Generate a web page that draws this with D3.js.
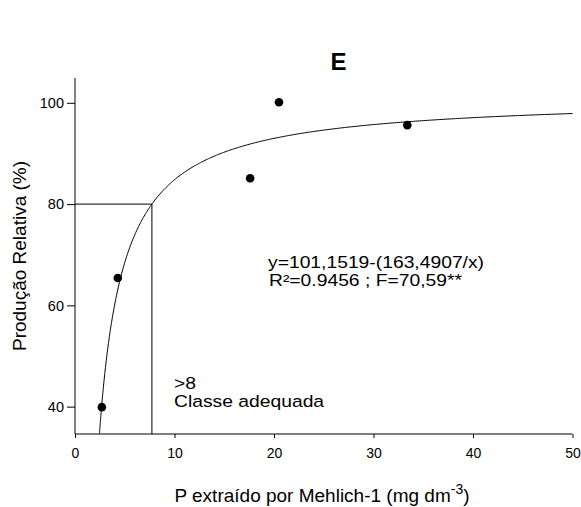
<!DOCTYPE html>
<html>
<head>
<meta charset="utf-8">
<script src="https://cdn.jsdelivr.net/npm/d3@7"></script>
<style>
  html, body { margin: 0; padding: 0; background: #fff; }
  svg { display: block; font-family: "Liberation Sans", Arial, sans-serif; }
</style>
</head>
<body>
<svg id="chart" width="581" height="507"></svg>
<script>
// Observed P levels (mg dm-3) and relative yield (%)
const pValues = [2.7, 4.3, 17.6, 20.5, 33.4];
const yieldValues = [39.9, 65.4, 85.1, 100.1, 95.6];

// Fitted model y = a - b/x
const coefA = 101.1519;
const coefB = 163.4907;
const criticalYield = 80;

const xTicks = [0, 10, 20, 30, 40, 50];
const yTicks = [40, 60, 80, 100];

const svg = d3.select("#chart");

const x = d3.scaleLinear().domain([0, 50]).range([75, 572.5]);
const y = d3.scaleLinear().domain([34.6, 104.9]).range([434, 78]);

// axes
const xAxis = d3.axisBottom(x).tickValues(xTicks).tickSize(4).tickPadding(10).tickFormat(d3.format("d"));
const yAxis = d3.axisLeft(y).tickValues(yTicks).tickSize(8).tickPadding(3).tickFormat(d3.format("d"));

const gx = svg.append("g").attr("transform", `translate(0,${y.range()[0]})`).call(xAxis);
const gy = svg.append("g").attr("transform", `translate(${x.range()[0]},0)`).call(yAxis);

[gx, gy].forEach(g => {
  g.select(".domain").attr("stroke", "#000").attr("stroke-width", 1);
  g.selectAll(".tick line").attr("stroke", "#000");
  g.selectAll(".tick text").attr("fill", "#000")
    .style("font-family", "'Liberation Sans', Arial, sans-serif");
});
gx.selectAll(".tick text").style("font-size", "14px");
gy.selectAll(".tick text").style("font-size", "14.5px");
// axis lines without end caps
gx.select(".domain").attr("d", `M${x.range()[0]},0H${x.range()[1]}`);
gy.select(".domain").attr("d", `M0,${y.range()[0]}V${y.range()[1]}`);

// critical level guide lines
const xCrit = coefB / (coefA - criticalYield);
svg.append("path")
  .attr("d", `M${x(0)},${y(criticalYield)}H${x(xCrit)}V${y.range()[0]}`)
  .attr("fill", "none").attr("stroke", "#000").attr("stroke-width", 1);

// fitted curve
const xStart = coefB / (coefA - y.domain()[0]);
const curvePts = d3.range(0, 401).map(i => {
  const xv = xStart + (50 - xStart) * Math.pow(i / 400, 2);
  return [xv, coefA - coefB / xv];
});
svg.append("path")
  .datum(curvePts)
  .attr("d", d3.line().x(d => x(d[0])).y(d => y(d[1])))
  .attr("fill", "none").attr("stroke", "#000").attr("stroke-width", 1);

// observations
svg.append("g").selectAll("circle")
  .data(pValues.map((p, i) => [p, yieldValues[i]]))
  .join("circle")
  .attr("cx", d => x(d[0])).attr("cy", d => y(d[1]))
  .attr("r", 4.3).attr("fill", "#000");

// title
svg.append("text").attr("x", 338.5).attr("y", 69.5).attr("text-anchor", "middle")
  .style("font-size", "24px").style("font-weight", "bold").text("E");

// axis titles
svg.append("text")
  .attr("transform", "translate(25.5,256) rotate(-90)")
  .attr("text-anchor", "middle").style("font-size", "19px")
  .text("Produção Relativa (%)");

const xt = svg.append("text").attr("x", 322).attr("y", 502).attr("text-anchor", "middle")
  .style("font-size", "19px");
xt.append("tspan").text("P extraído por Mehlich-1 (mg dm");
xt.append("tspan").attr("dy", -8).style("font-size", "14px").text("-3");
xt.append("tspan").attr("dy", 8).text(")");

// annotation helper: slightly widened sans lines
function note(txt, x0, y0) {
  svg.append("text")
    .attr("transform", `translate(${x0},${y0}) scale(1.17,1)`)
    .style("font-size", "16.5px")
    .text(txt);
}

// equation annotation
note("y=101,1519-(163,4907/x)", 268, 268);
note("R²=0.9456 ; F=70,59**", 269, 285.5);

// class annotation
note(">8", 174, 389);
note("Classe adequada", 174, 407);
</script>
</body>
</html>
